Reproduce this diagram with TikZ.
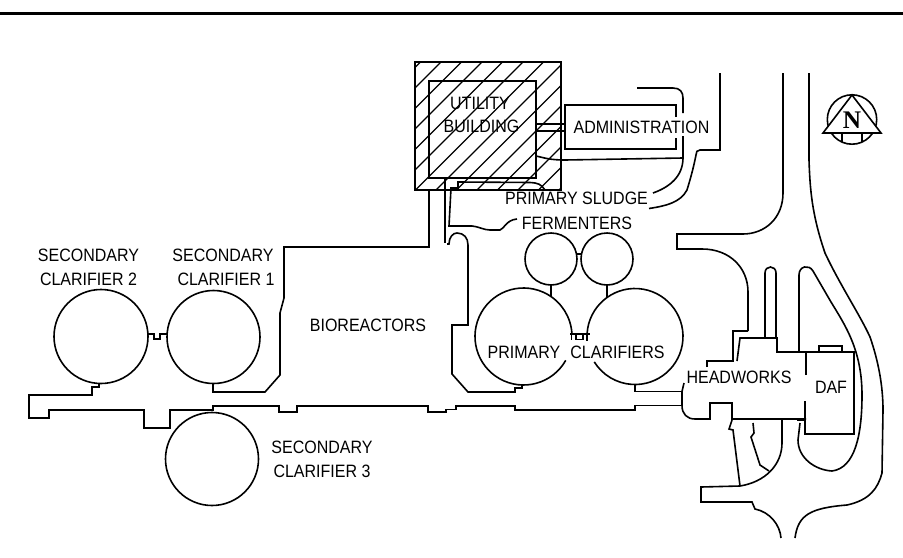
\documentclass[tikz,border=0pt]{standalone}
\usepackage{graphicx}
\usepackage{fontspec}
\setmainfont{Liberation Sans}
\newfontfamily\northfont{Liberation Serif}
\newcommand{\tallbox}[1]{\scalebox{1}[1.12]{#1}}
\begin{document}
\begin{tikzpicture}[x=0.75pt,y=-0.75pt,
  ln/.style={draw=black,line width=1.2pt,line join=miter},
  thk/.style={draw=black,line width=1.7pt},
  hatchline/.style={draw=black,line width=1pt},
  lbl/.style={inner sep=0pt,font=\fontsize{12}{14}\selectfont,text=black}]
\useasboundingbox[fill=white] (0,0) rectangle (903,557);
\draw[draw=black,line width=2.3pt] (0,13.5) -- (903,13.5);

% utility building hatch
\begin{scope}
\clip (415,62) rectangle (561,190);
\foreach \k in {-3,...,10}{
  \pgfmathsetmacro{\s}{544+20.5*\k}
  \draw[hatchline] ({\s-50},50) -- ({\s-200},200);
}
\end{scope}
\draw[ln] (415,62) rectangle (561,190);
\draw[ln] (429,81) rectangle (536,178);

% administration
\draw[ln] (676,117) -- (676,105) -- (565,105) -- (565,149) -- (676,149) -- (676,138);
\draw[ln] (536,124) -- (565,124);
\draw[ln] (536,131) -- (565,131);

% lines near administration
\draw[ln] (637,88) -- (673,88) .. controls (680,88) and (683,92) .. (683,98) -- (683,113);
\draw[ln] (683,136) -- (683,158) .. controls (683,176) and (670,187) .. (653,193);
\draw[ln] (536,156) .. controls (545,158) and (550,160) .. (565,160) -- (683,158);
\draw[ln] (720,73) -- (720,150) -- (700,150) .. controls (697,150) and (696,152) .. (696,155)
  .. controls (693,170) and (690,180) .. (687,190) .. controls (680,203) and (665,206) .. (649,208.5);
\draw[ln] (783,73) -- (783,193) .. controls (783,218) and (765,234) .. (743,234) -- (677,234) -- (677,249) -- (702,249)
  .. controls (730,249) and (748,268) .. (748,292) -- (748,331);

% fermenter pipes near utility
\draw[thk] (536,178) -- (445,178) -- (445,243);
\draw[ln] (545,190) .. controls (541,184) and (538,183) .. (530,182.5) -- (458,182) -- (458,188) -- (451,188) -- (449,226) -- (472,226)
  .. controls (480,227) and (484,230) .. (490,230) -- (500,230) .. controls (504,229) and (506,220) .. (517,219);
\draw[ln] (429,190) -- (429,247) -- (284,247) -- (284,298) -- (280,313) -- (280,375) -- (265,392) -- (213,392) -- (213,383);
\draw[ln] (447,244) -- (449,244) .. controls (449,237) and (453,233) .. (457,233) .. controls (464,233) and (468,238) .. (468,245)
  -- (468,325) -- (452,325) -- (452,374) -- (468,392) -- (515,392) -- (515,388) -- (522,388) -- (522,385);

% secondary clarifiers
\draw[ln] (101,336.5) circle[radius=47];
\draw[ln] (213.5,337) circle[radius=46.5];
\draw[ln] (212,459) circle[radius=46.5];
\draw[ln] (148,334) -- (154,334) -- (154,339) -- (160,339) -- (160,334) -- (167,334);

% long bottom wall
\draw[ln] (99,383) -- (99,387) -- (92,387) -- (92,395) -- (29,395) -- (29,418) -- (49,418) -- (49,410) -- (144,410) -- (144,428) -- (170,428) -- (170,410) -- (213,410) -- (213,406)
  -- (279,406) -- (279,412) -- (297,412) -- (297,406) -- (428,406) -- (428,412) -- (446,412) -- (446,409.5) -- (456,409.5) -- (456,406) -- (515,406) -- (515,410) -- (635,410) -- (635,405.5) -- (682,405.5);
\draw[ln] (635,385) -- (635,391.5) -- (682,391.5);

% primary clarifiers
\draw[ln] ([shift={(29.5:48.5)}]523.5,336.5) arc[start angle=29.5,end angle=356,radius=48.5];
\draw[ln] ([shift={(184:48)}]635,336.5) arc[start angle=184,end angle=508,radius=48];
\draw[thk] (570,334) -- (590,334);
\draw[ln] (576,334) -- (576,339.5) -- (583,339.5) -- (583,334);
\draw[ln] (587,334) -- (587,341);
\draw[ln] (571.5,334) -- (571.5,340);

% fermenters
\draw[ln] (551,259) circle[radius=26];
\draw[ln] (607,259) circle[radius=26];
\draw[ln] (577,254) -- (581,254);
\draw[ln] (551,285) -- (551,297);
\draw[ln] (607,285) -- (607,297);

% headworks
\draw[thk] (707,367) -- (707,361) -- (733,361) -- (733,331) -- (748,331);
\draw[ln] (737,361) -- (740,338) -- (777,338) -- (777,352) -- (806,352);
\draw[ln] (806,375) -- (806,352) -- (854,352) -- (854,434) -- (805,434) -- (805,401);
\draw[ln] (819,352) -- (819,346) -- (842,346) -- (842,352);
\draw[ln] (684,383) -- (682,391.5) -- (682,405.5) .. controls (682,414) and (687,419) .. (695,419) -- (710,419) -- (710,403) -- (732,403) -- (732,419) -- (806,419);
\draw[thk] (797,419.5) -- (806,419.5);
\draw[ln] (765,338) -- (765,273) .. controls (765,265) and (776,265) .. (776,273) -- (776,338);
\draw[ln] (799,352) -- (799,275) .. controls (799,266) and (809,264) .. (813,271)
  -- (831,302) .. controls (845,325) and (862,350) .. (862,395) .. controls (862,435) and (855,468) .. (832,471)
  .. controls (815,470) and (798,458) .. (798,440) -- (800,423);
\draw[thk] (797,352) -- (800,352);
\draw[ln] (809,73) -- (809,160) .. controls (810,190) and (812,215) .. (825,253)
  .. controls (840,285) and (860,315) .. (870,337) .. controls (878,360) and (883,385) .. (883,410)
  -- (882,473) .. controls (878,488) and (870,500) .. (847,505) .. controls (810,508) and (798,515) .. (795,538);
\draw[ln] (781,538) .. controls (780,525) and (770,512) .. (755,509) -- (752,502) -- (701,502) -- (701,487) -- (740,486)
  .. controls (765,482) and (782,465) .. (782,443) -- (782,420);
\draw[ln] (740,486) -- (733,430) -- (729,429) -- (732,420);
\draw[ln] (753,423) -- (754,433) -- (751,437) -- (760,465) -- (769,471);

% north symbol
\draw[ln] (852,119.5) circle[radius=24.7];
\draw[ln,fill=white] (852,95) -- (823,133) -- (881,133) -- cycle;
\draw[ln] (842,133) -- (842,142);
\draw[ln] (862,133) -- (862,142);

% labels
\node[lbl] (sc2a) at (88.5,255) {\tallbox{SECONDARY}};
\node[lbl] (sc2b) at (88.5,279) {\tallbox{CLARIFIER 2}};
\node[lbl] (sc1a) at (223,255) {\tallbox{SECONDARY}};
\node[lbl] (sc1b) at (226,279) {\tallbox{CLARIFIER 1}};
\node[lbl] (bio) at (368,325) {\tallbox{BIOREACTORS}};
\node[lbl] (sc3a) at (322,447) {\tallbox{SECONDARY}};
\node[lbl] (sc3b) at (322,471) {\tallbox{CLARIFIER 3}};
\node[lbl] (ub1) at (480,103) {\tallbox{UTILITY}};
\node[lbl] (ub2) at (481.5,126) {\tallbox{BUILDING}};
\node[lbl] (adm) at (641.5,127) {\tallbox{ADMINISTRATION}};
\node[lbl] (psf1) at (576.5,198) {\tallbox{PRIMARY SLUDGE}};
\node[lbl] (psf2) at (577,223) {\tallbox{FERMENTERS}};
\node[lbl] (pc1) at (524,352) {\tallbox{PRIMARY}};
\node[lbl] (pc2) at (617.5,352) {\tallbox{CLARIFIERS}};
\node[lbl] (hw) at (739,377) {\tallbox{HEADWORKS}};
\node[lbl] (daf) at (831,387) {\tallbox{DAF}};
\node[inner sep=0pt,font=\fontsize{19}{22}\northfont\bfseries\selectfont] (north) at (852,120) {N};
\end{tikzpicture}
\end{document}
